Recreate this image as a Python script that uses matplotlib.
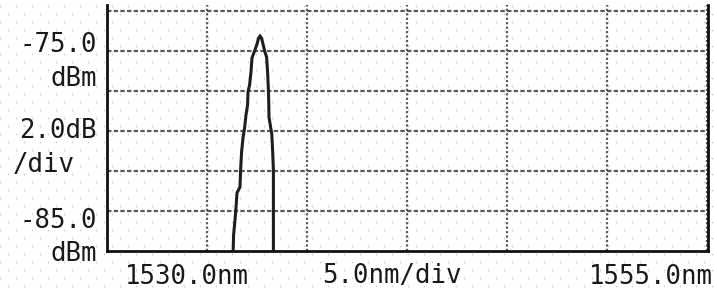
"""OSA screen capture: single narrow peak near 1541.5 nm."""

import matplotlib
import matplotlib.pyplot as plt
import numpy as np

matplotlib.use("Agg")

# trace (wavelength nm, level dBm)
wavelength_nm = [
    1536.28, 1536.33, 1536.40, 1536.45, 1536.50, 1536.65, 1536.68, 1536.73,
    1536.80, 1536.88, 1536.95, 1537.03, 1537.05, 1537.13, 1537.20, 1537.25,
    1537.38, 1537.50, 1537.58, 1537.65, 1537.73, 1537.80, 1537.90, 1537.98,
    1538.03, 1538.07, 1538.09, 1538.10, 1538.18, 1538.24, 1538.28, 1538.32,
    1538.32,
]
level_dbm = [
    -88.0, -86.21, -85.46, -84.86, -84.11, -83.81, -82.96, -82.06,
    -81.36, -80.86, -80.21, -79.71, -79.06, -78.71, -78.06, -77.36,
    -77.01, -76.67, -76.37, -76.27, -76.37, -76.67, -77.07, -77.32,
    -78.07, -78.97, -79.72, -80.32, -80.82, -81.17, -81.97, -82.97,
    -88.0,
]

y_labels = ["-75.0", "dBm", "2.0dB", "/div", "-85.0", "dBm"]
x_labels = ["1530.0nm", "5.0nm/div", "1555.0nm"]

X_START, NM_PER_DIV, N_XDIV = 1530.0, 5.0, 6
Y_BOTTOM, DB_PER_DIV, N_YDIV = -87.0, 2.0, 6

W, H, DPI = 717, 292, 100
fig = plt.figure(figsize=(W / DPI, H / DPI), dpi=DPI)

# background dot lattice over the whole screen
bg = fig.add_axes([0, 0, 1, 1], zorder=0)
bg.set_xlim(0, W)
bg.set_ylim(H, 0)
bg.axis("off")
rows = np.arange(5.7, H, 8.0)
for i, yy in enumerate(rows):
    xs = np.arange(0 if i % 2 == 0 else 8, W, 16)
    bg.scatter(xs, np.full_like(xs, yy, dtype=float), s=1.2, color="#c4c4c4",
               linewidths=0)

# plot area in pixels: left 107, right 708, top 4.7, bottom 250.7
left, right, top, bottom = 107, 708, 4.7, 250.7
ax = fig.add_axes([left / W, 1 - bottom / H, (right - left) / W,
                   (bottom - top) / H], zorder=1)
ax.patch.set_alpha(0)

px_x = NM_PER_DIV / 100.0
px_y = DB_PER_DIV / 40.0
ax.set_xlim(X_START, X_START + (right - left) * px_x)
ax.set_ylim(Y_BOTTOM, Y_BOTTOM + (bottom - top) * px_y)

for k in range(1, N_XDIV + 1):
    ax.axvline(X_START + k * NM_PER_DIV, color="#5a5a5a", lw=1.6,
               ls=(0, (1, 1)), zorder=1)
for k in range(1, N_YDIV + 1):
    ax.axhline(Y_BOTTOM + k * DB_PER_DIV, color="#5a5a5a", lw=1.6,
               ls=(0, (2, 1)), zorder=1)

ax.plot(wavelength_nm, level_dbm, color="#1e1e1e", lw=2.2, zorder=3,
        solid_joinstyle="miter")

for side in ("left", "bottom", "right"):
    ax.spines[side].set_color("#111111")
    ax.spines[side].set_linewidth(2.0)
ax.spines["top"].set_visible(False)
ax.set_xticks([])
ax.set_yticks([])

font = dict(family="DejaVu Sans Mono", fontsize=18.5, color="#1a1a1a")

# left column labels (pixel positions of the screen)
label_pos = [(97, 45, "right"), (97, 79, "right"), (97, 131, "right"),
             (13, 165, "left"), (97, 221, "right"), (97, 254, "right")]
for text, (px, py, ha) in zip(y_labels, label_pos):
    bg.text(px, py, text, ha=ha, va="center", **font)

bottom_pos = [(125, 277, "left"), (322, 276, "left"), (713, 277, "right")]
for text, (px, py, ha) in zip(x_labels, bottom_pos):
    bg.text(px, py, text, ha=ha, va="center", **font)

fig.savefig("out.png", dpi=DPI, facecolor="white")
plt.close(fig)
